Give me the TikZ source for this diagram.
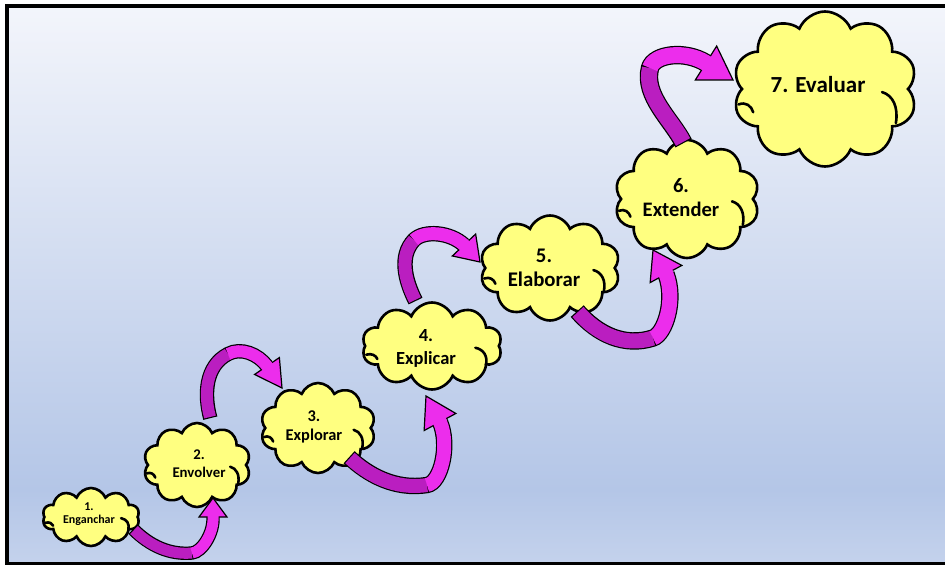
\documentclass[tikz,border=0pt]{standalone}
\usepackage{fontspec}
\setmainfont{Carlito}
\usetikzlibrary{shapes.symbols,calc}
\definecolor{cloudfill}{RGB}{255,255,128}
\definecolor{arrbright}{RGB}{236,45,236}
\definecolor{arrdark}{RGB}{186,30,192}
\definecolor{bgtop}{RGB}{243,245,251}
\definecolor{bgmid}{RGB}{180,198,231}
\definecolor{bgbot}{RGB}{196,210,236}

\newcommand\cloudarcs[3]{%
  \begin{scope}[shift={(#1.center)},x=#2pt,y=-#3pt]
    \draw[cloudline] (0.31,0.02) .. controls (0.37,0.04) and (0.40,0.12) .. (0.385,0.22);
    \draw[cloudline] (-0.47,0.10) .. controls (-0.43,0.08) and (-0.40,0.11) .. (-0.39,0.15);
  \end{scope}}

\newcommand\curvedarrow[3]{%
  \draw[line width=#2pt+2.4pt, black, shorten <=-1.2pt]
    (#1s) .. controls (#1p) and (#1q) .. (#1m) .. controls (#1r) and (#1u) .. (#1b);
  \filldraw[fill=arrbright, draw=black, line width=1.2pt, line join=miter]
    ($(#1b)!#3pt!90:(#1t)$) -- (#1t) -- ($(#1b)!#3pt!-90:(#1t)$) -- cycle;
  \draw[line width=#2pt, arrdark] (#1s) .. controls (#1p) and (#1q) .. (#1m);
  \draw[line width=#2pt, arrbright] (#1m) .. controls (#1r) and (#1u) .. (#1b) -- ($(#1b)!3pt!(#1t)$);
}

\begin{document}
\begin{tikzpicture}[x=1pt,y=-1pt,
  cloudbox/.style={cloud, cloud puffs=10, cloud puff arc=135, cloud ignores aspect,
    draw=black, line width=2.6pt, fill=cloudfill, inner sep=0pt},
  lbl/.style={align=center, inner sep=0pt},
  cloudline/.style={draw=black, line width=2.6pt, line cap=round}]

\useasboundingbox (0,0) rectangle (945,565);
\clip (0,0) rectangle (945,565);

% background
\fill[white] (0,0) rectangle (945,565);
\shade[top color=bgtop, bottom color=bgmid] (7,6) rectangle (960,490);
\shade[top color=bgmid, bottom color=bgbot] (7,489.5) rectangle (960,564);
\draw[line width=3.5pt] (7,6) rectangle (965,563.5);

% clouds
\node[cloudbox, minimum width=97pt,  minimum height=58pt]  (c1) at (91,517) {};
\node[cloudbox, minimum width=107pt, minimum height=84pt]  (c2) at (197,465) {};
\node[cloudbox, minimum width=115pt, minimum height=90pt]  (c3) at (318,428) {};
\node[cloudbox, minimum width=140pt, minimum height=87pt]  (c4) at (432,346) {};
\node[cloudbox, minimum width=140pt, minimum height=105pt] (c5) at (550,268) {};
\node[cloudbox, minimum width=145pt, minimum height=118pt] (c6) at (687,199) {};
\node[cloudbox, minimum width=184pt, minimum height=155pt] (c7) at (825,89) {};

\cloudarcs{c1}{97}{58}
\cloudarcs{c2}{107}{84}
\cloudarcs{c3}{115}{90}
\cloudarcs{c4}{140}{87}
\cloudarcs{c5}{140}{105}
\cloudarcs{c6}{145}{118}
\cloudarcs{c7}{184}{155}

% labels
\node[lbl, font=\bfseries\fontsize{12}{13.5}\selectfont] (t1) at ($(c1.center)+(-2,-3)$) {1.\\Enganchar};
\node[lbl, font=\bfseries\fontsize{14.8}{18}\selectfont] (t2) at ($(c2.center)+(2,-1)$) {2.\\Envolver};
\node[lbl, font=\bfseries\fontsize{16.4}{19.5}\selectfont] (t3) at ($(c3.center)+(-4,-1)$) {3.\\Explorar};
\node[lbl, font=\bfseries\fontsize{18.5}{23}\selectfont] (t4) at ($(c4.center)+(-6,2)$) {4.\\Explicar};
\node[lbl, font=\bfseries\fontsize{20.8}{24}\selectfont] (t5) at ($(c5.center)+(-6,0)$) {5.\\Elaborar};
\node[lbl, font=\bfseries\fontsize{20.6}{24}\selectfont] (t6) at ($(c6.center)+(-6,-1)$) {6.\\Extender};
\node[lbl, font=\bfseries\fontsize{23}{27}\selectfont] (t7) at ($(c7.center)+(-7,-4)$) {7. Evaluar};

% arrow 1
\coordinate (a1s) at (134,530); \coordinate (a1p) at (150,546); \coordinate (a1q) at (170,555);
\coordinate (a1m) at (192,553); \coordinate (a1r) at (202,552); \coordinate (a1u) at (214,533);
\coordinate (a1b) at (213,517); \coordinate (a1t) at (213,498);
% arrow 2
\coordinate (a2s) at (210,417); \coordinate (a2p) at (204,395); \coordinate (a2q) at (205,366);
\coordinate (a2m) at (228,354); \coordinate (a2r) at (241,347); \coordinate (a2u) at (258,354);
\coordinate (a2b) at (267,366); \coordinate (a2t) at (282,388);
% arrow 3
\coordinate (a3s) at (350,458); \coordinate (a3p) at (368,475); \coordinate (a3q) at (395,490);
\coordinate (a3m) at (427,485); \coordinate (a3r) at (441,483); \coordinate (a3u) at (450,445);
\coordinate (a3b) at (440,422); \coordinate (a3t) at (426,396);
% arrow 4
\coordinate (a4s) at (415,300); \coordinate (a4p) at (405,280); \coordinate (a4q) at (399,256);
\coordinate (a4m) at (414,240); \coordinate (a4r) at (424,230); \coordinate (a4u) at (450,232);
\coordinate (a4b) at (464,245); \coordinate (a4t) at (480,262);
% arrow 5
\coordinate (a5s) at (578,312); \coordinate (a5p) at (598,335); \coordinate (a5q) at (625,347);
\coordinate (a5m) at (653,338); \coordinate (a5r) at (665,334); \coordinate (a5u) at (676,300);
\coordinate (a5b) at (666,274); \coordinate (a5t) at (653,250);
% arrow 6
\coordinate (a6s) at (683,142); \coordinate (a6p) at (672,120); \coordinate (a6q) at (643,96);
\coordinate (a6m) at (650,68); \coordinate (a6r) at (654,54); \coordinate (a6u) at (685,50);
\coordinate (a6b) at (706,63); \coordinate (a6t) at (733,80);

\curvedarrow{a1}{11}{14}
\curvedarrow{a2}{12}{15}
\curvedarrow{a3}{14}{18}
\curvedarrow{a4}{13}{16}
\curvedarrow{a5}{15}{18}
\curvedarrow{a6}{16}{20}
\end{tikzpicture}
\end{document}
